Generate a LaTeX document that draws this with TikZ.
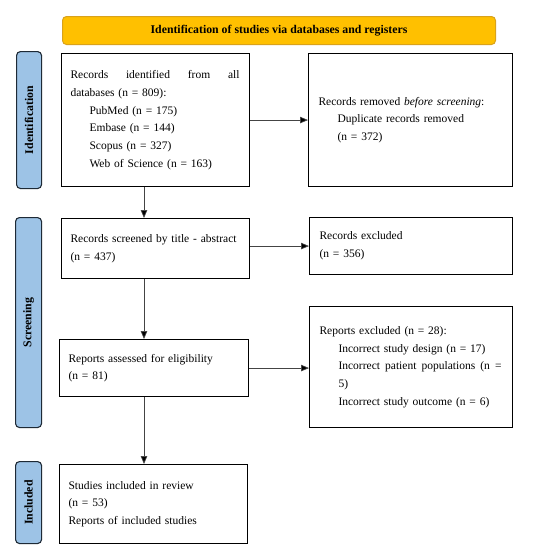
\documentclass[tikz,border=0pt]{standalone}
\usepackage{fontspec}
\setmainfont{Liberation Serif}
\usetikzlibrary{arrows.meta}
\definecolor{bannerfill}{HTML}{FFC000}
\definecolor{bannerline}{HTML}{D9A21B}
\definecolor{phasefill}{HTML}{9DC3E6}
\definecolor{phaseline}{HTML}{1E2A36}
\definecolor{arrline}{HTML}{444444}
\begin{document}
\begin{tikzpicture}[x=1pt,y=-1pt,
  font=\fontsize{11.5}{17.7}\selectfont,
  box/.style={draw=black, line width=1.1pt, fill=white, inner xsep=9pt, inner ysep=0pt, align=left, anchor=north west},
  phase/.style={draw=phaseline, line width=1.1pt, fill=phasefill, rounded corners=4pt, anchor=north west, inner sep=0pt},
  phasetxt/.style={rotate=90, font=\fontsize{11.8}{14}\selectfont\bfseries},
  arr/.style={draw=arrline, line width=0.7pt, -{Triangle[length=8pt,width=6.5pt,fill=black]}}
]
\useasboundingbox[fill=white] (0,0) rectangle (539,550);

% banner
\node[draw=bannerline, line width=1pt, fill=bannerfill, rounded corners=4pt, anchor=north west,
      minimum width=433pt, minimum height=28pt, inner sep=0pt, font=\fontsize{11.8}{14}\selectfont\bfseries]
  (banner) at (62,16) {Identification of studies via databases and registers};

% phase labels
\node[phase, minimum width=25pt, minimum height=137pt] (pid) at (16,51) {};
\node[phasetxt] (pidt) at (pid.center) {Identification};
\node[phase, minimum width=26pt, minimum height=210pt] (psc) at (15,217) {};
\node[phasetxt] (psct) at (psc.center) {Screening};
\node[phase, minimum width=26pt, minimum height=82pt] (pin) at (15,461) {};
\node[phasetxt] (pint) at (pin.center) {Included};

% boxes
\node[box, text width=170pt, minimum height=133pt] (b1) at (61,53) {%
  \hbox to 169pt{Records\hfill identified\hfill from\hfill all}\\
  databases (n = 809):\\
  \hspace*{19pt}PubMed (n = 175)\\
  \hspace*{19pt}Embase (n = 144)\\
  \hspace*{19pt}Scopus (n = 327)\\
  \hspace*{19pt}Web of Science (n = 163)};

\node[box, inner xsep=10pt, text width=184pt, minimum height=133pt] (b2) at (308,53) {%
  Records removed \textit{before screening}:\\
  \hspace*{19pt}Duplicate records removed\\
  \hspace*{19pt}(n = 372)};

\node[box, text width=170pt, minimum height=60pt] (b3) at (61,218) {%
  Records screened by title - abstract\\
  (n = 437)};

\node[box, inner xsep=10pt, text width=183pt, minimum height=57pt] (b4) at (309,217) {%
  Records excluded\\
  (n = 356)};

\node[box, text width=171pt, minimum height=57pt] (b5) at (59,339) {%
  Reports assessed for eligibility\\
  (n = 81)};

\node[box, inner xsep=10pt, text width=183pt, minimum height=121pt] (b6) at (309,306) {%
  Reports excluded (n = 28):\\
  \hspace*{19pt}Incorrect study design (n = 17)\\
  \hspace*{19pt}\hbox to 163pt{Incorrect\hfill patient\hfill populations\hfill (n\hfill =}\\
  \hspace*{19pt}5)\\
  \hspace*{19pt}Incorrect study outcome (n = 6)};

\node[box, text width=170pt, minimum height=79pt] (b7) at (59,464) {%
  Studies included in review\\
  (n = 53)\\
  Reports of included studies};

% connectors
\coordinate (ax) at (144,0);
\draw[arr] (b1.east) -- (b2.west);
\draw[arr] (b4.west -| b3.east) -- (b4.west);
\draw[arr] (b5.east) -- (b5.east -| b6.west);
\draw[arr] (b1.south -| ax) -- (b3.north -| ax);
\draw[arr] (b3.south -| ax) -- (b5.north -| ax);
\draw[arr] (b5.south -| ax) -- (b7.north -| ax);
\end{tikzpicture}
\end{document}
